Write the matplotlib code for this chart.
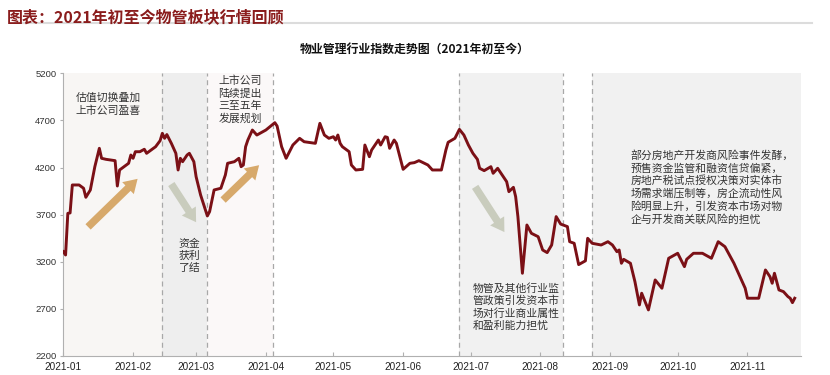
import matplotlib
matplotlib.use("Agg")
import matplotlib.pyplot as plt
import matplotlib.dates as mdates
import pandas as pd

plt.rcParams['font.family'] = ['Noto Sans CJK SC', 'DejaVu Sans']

# index level
dates = [
    "2021-01-01", "2021-01-02", "2021-01-03", "2021-01-04", "2021-01-05", "2021-01-08",
    "2021-01-10", "2021-01-11", "2021-01-13", "2021-01-15", "2021-01-17", "2021-01-18",
    "2021-01-20", "2021-01-24", "2021-01-25", "2021-01-26", "2021-01-28", "2021-01-30",
    "2021-01-31", "2021-02-01", "2021-02-02", "2021-02-04", "2021-02-06", "2021-02-07",
    "2021-02-09", "2021-02-11", "2021-02-13", "2021-02-14", "2021-02-15", "2021-02-16",
    "2021-02-18", "2021-02-20", "2021-02-21", "2021-02-22", "2021-02-23", "2021-02-25",
    "2021-02-26", "2021-02-28", "2021-03-01", "2021-03-03", "2021-03-06", "2021-03-07",
    "2021-03-09", "2021-03-12", "2021-03-14", "2021-03-15", "2021-03-18", "2021-03-20",
    "2021-03-21", "2021-03-22", "2021-03-23", "2021-03-24", "2021-03-26", "2021-03-28",
    "2021-04-01", "2021-04-05", "2021-04-06", "2021-04-08", "2021-04-10", "2021-04-13",
    "2021-04-16", "2021-04-18", "2021-04-23", "2021-04-25", "2021-04-27", "2021-04-29",
    "2021-05-01", "2021-05-02", "2021-05-03", "2021-05-04", "2021-05-05", "2021-05-08",
    "2021-05-09", "2021-05-11", "2021-05-14", "2021-05-15", "2021-05-17", "2021-05-18",
    "2021-05-21", "2021-05-22", "2021-05-24", "2021-05-25", "2021-05-26", "2021-05-28",
    "2021-05-29", "2021-06-01", "2021-06-04", "2021-06-06", "2021-06-07", "2021-06-08",
    "2021-06-09", "2021-06-12", "2021-06-14", "2021-06-18", "2021-06-20", "2021-06-21",
    "2021-06-24", "2021-06-26", "2021-06-28", "2021-06-30", "2021-07-02", "2021-07-04",
    "2021-07-05", "2021-07-07", "2021-07-10", "2021-07-11", "2021-07-13", "2021-07-16",
    "2021-07-17", "2021-07-18", "2021-07-20", "2021-07-21", "2021-07-22", "2021-07-24",
    "2021-07-26", "2021-07-28", "2021-07-31", "2021-08-02", "2021-08-04", "2021-08-06",
    "2021-08-08", "2021-08-10", "2021-08-13", "2021-08-14", "2021-08-16", "2021-08-18",
    "2021-08-21", "2021-08-22", "2021-08-24", "2021-08-28", "2021-08-31", "2021-09-02",
    "2021-09-04", "2021-09-05", "2021-09-06", "2021-09-07", "2021-09-10", "2021-09-12",
    "2021-09-14", "2021-09-15", "2021-09-18", "2021-09-21", "2021-09-24", "2021-09-27",
    "2021-10-01", "2021-10-04", "2021-10-05", "2021-10-08", "2021-10-12", "2021-10-16",
    "2021-10-19", "2021-10-22", "2021-10-26", "2021-10-28", "2021-10-31", "2021-11-01",
    "2021-11-06", "2021-11-09", "2021-11-11", "2021-11-12", "2021-11-13", "2021-11-15",
    "2021-11-17", "2021-11-19", "2021-11-20", "2021-11-21", "2021-11-22",
]
values = [
    3307, 3272, 3714, 3718, 4015, 4015,
    3980, 3884, 3962, 4209, 4404, 4298,
    4287, 4273, 4004, 4174, 4209, 4245,
    4333, 4298, 4368, 4368, 4394, 4351,
    4386, 4421, 4485, 4563, 4510, 4550,
    4457, 4351, 4174, 4298, 4262, 4333,
    4351, 4262, 4103, 3909, 3686, 3732,
    3962, 3980, 4121, 4245, 4262, 4298,
    4209, 4227, 4421, 4492, 4598, 4545,
    4598, 4676, 4640, 4421, 4298, 4439,
    4510, 4474, 4457, 4669, 4545, 4510,
    4527, 4492, 4545, 4457, 4421, 4368,
    4227, 4174, 4181, 4439, 4315, 4386,
    4492, 4439, 4527, 4520, 4404, 4492,
    4457, 4181, 4245, 4252, 4262, 4273,
    4262, 4227, 4174, 4174, 4386, 4468,
    4510, 4605, 4545, 4439, 4351, 4287,
    4192, 4167, 4209, 4139, 4192, 4086,
    4050, 3944, 3990, 3891, 3679, 3078,
    3590, 3502, 3466, 3325, 3297, 3378,
    3679, 3600, 3573, 3413, 3396, 3170,
    3210, 3449, 3396, 3378, 3413, 3378,
    3307, 3325, 3184, 3226, 3184, 2989,
    2742, 2866, 2689, 3007, 2919, 3237,
    3290, 3148, 3226, 3290, 3290, 3237,
    3413, 3360, 3184, 3078, 2919, 2813,
    2813, 3113, 3042, 2972, 3078, 2901,
    2883, 2830, 2813, 2766, 2813,
]

# phase boundaries (dashed lines) and shaded phases
phase_lines = ["2021-02-14", "2021-03-06", "2021-04-04", "2021-06-26", "2021-08-11", "2021-08-24"]
phase_spans = [
    ("2021-01-01", "2021-02-14", "#f8f6f4"),
    ("2021-02-14", "2021-03-06", "#eeeeee"),
    ("2021-03-06", "2021-04-04", "#fbf8f8"),
    ("2021-06-26", "2021-08-11", "#f1f1f1"),
    ("2021-08-24", "2021-11-25", "#f1f1f1"),
]

notes = [
    ("2021-01-21", 4870, "估值切换叠加\n上市公司盈喜", "center"),
    ("2021-03-11", 4920, "上市公司\n陆续提出\n三至五年\n发展规划", "left"),
    ("2021-02-26", 3260, "资金\n获利\n了结", "center"),
    ("2021-07-02", 2720, "物管及其他行业监\n管政策引发资本市\n场对行业商业属性\n和盈利能力担忧", "left"),
    ("2021-09-10", 3990, "部分房地产开发商风险事件发酵，\n预售资金监管和融资信贷偏紧，\n房地产税试点授权决策对实体市\n场需求端压制等，房企流动性风\n险明显上升，引发资本市场对物\n企与开发商关联风险的担忧", "left"),
]

# trend arrows: tail date, tail value, head date, head value, colour
arrows = [
    ("2021-01-12", 3570, "2021-02-03", 4080, "#d7a96b"),
    ("2021-02-18", 4025, "2021-03-01", 3620, "#c9ccbd"),
    ("2021-03-13", 3855, "2021-03-29", 4225, "#d7a96b"),
    ("2021-07-03", 3995, "2021-07-16", 3515, "#c9ccbd"),
]

yticks = [2200, 2700, 3200, 3700, 4200, 4700, 5200]

fig = plt.figure(figsize=(8.3, 3.75), dpi=100)
ax = fig.add_axes([0.0763, 0.0507, 0.8884, 0.7538])

for a, b, c in phase_spans:
    ax.axvspan(pd.Timestamp(a), pd.Timestamp(b), color=c, lw=0, zorder=0)
for d in phase_lines:
    ax.axvline(pd.Timestamp(d), color="#a8a8a8", lw=0.9, ls=(0, (4, 3)), zorder=1)

ax.plot(pd.to_datetime(dates), values, color="#7b1016", lw=2.1, zorder=3)

for d, v, t, ha in notes:
    ax.text(pd.Timestamp(d), v, t, ha=ha, va="center", fontsize=7.8,
            color="#333333", linespacing=1.25, zorder=4)

for d0, v0, d1, v1, c in arrows:
    ax.annotate("", xy=(pd.Timestamp(d1), v1), xytext=(pd.Timestamp(d0), v0),
                arrowprops=dict(arrowstyle="simple,head_width=1.0,head_length=0.8,tail_width=0.45",
                                mutation_scale=12, color=c, lw=0, shrinkA=0, shrinkB=0),
                zorder=2)

ax.set_ylim(2200, 5200)
ax.set_yticks(yticks)
ax.set_xlim(pd.Timestamp("2021-01-01"), pd.Timestamp("2021-11-24 16:00"))
ax.xaxis.set_major_locator(mdates.MonthLocator())
ax.xaxis.set_major_formatter(mdates.DateFormatter("%Y-%m"))

for s in ["top", "right"]:
    ax.spines[s].set_visible(False)
for s in ["left", "bottom"]:
    ax.spines[s].set_color("#b0b0b0")
    ax.spines[s].set_linewidth(0.8)
ax.tick_params(axis="x", direction="in", length=3, color="#b0b0b0", labelsize=7.2,
               labelcolor="#222222", pad=4)
ax.tick_params(axis="y", direction="out", length=2, color="#b0b0b0", labelsize=6.8,
               labelcolor="#333333", pad=3)
for lab in ax.get_xticklabels() + ax.get_yticklabels():
    lab.set_family(["Liberation Sans", "DejaVu Sans"])

fig.text(0.008, 0.975, "图表：2021年初至今物管板块行情回顾", color="#8a1c1c",
         fontsize=11.5, fontweight="bold", va="top", ha="left")
fig.add_artist(plt.Line2D([0.018, 0.978], [0.94, 0.94], color="#dcdcdc", lw=1.5))
fig.text(0.5, 0.868, "物业管理行业指数走势图（2021年初至今）", fontsize=8.6,
         fontweight="bold", ha="center", va="center", color="#111111")

fig.savefig("out.png", dpi=100)
